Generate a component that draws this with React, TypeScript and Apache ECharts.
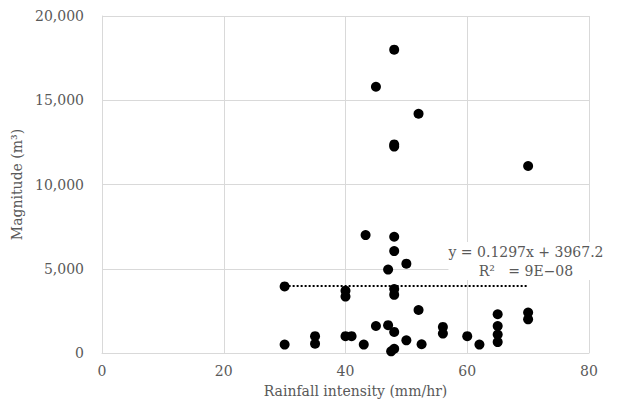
import React, { useEffect, useRef } from "react";
import * as echarts from "echarts";

const rainfall = [30, 30, 35, 35, 40, 40, 40, 41, 43, 43.3, 45, 45, 47, 47, 48, 48, 48, 48, 48, 47.5, 48, 48, 48, 48, 50, 50, 52, 52.5, 52, 56, 56, 60, 62, 65, 65, 65, 65, 70, 70, 70];
const magnitude = [3950, 500, 1000, 550, 3700, 3350, 1000, 1000, 500, 7000, 1600, 15800, 1650, 4950, 6900, 6050, 3800, 3450, 1250, 100, 250, 18000, 12380, 12250, 5300, 750, 2550, 520, 14200, 1550, 1150, 1000, 500, 2300, 1600, 1100, 650, 2400, 2000, 11100];
const trendX = [30, 70];
const slope = 0.1297;
const intercept = 3967.2;
const equationText = "y = 0.1297x + 3967.2";
const r2Text = "R²   = 9E−08";
const xTicks = { min: 0, max: 80, interval: 20 };
const yTicks = { min: 0, max: 20000, interval: 5000 };

export default function App() {
  const ref = useRef<HTMLDivElement>(null);
  useEffect(() => {
    document.body.style.margin = "0";
    if (!ref.current) return;
    const chart = echarts.init(ref.current, null, { renderer: "svg" });
    const font = "DejaVu Serif";
    const gray = "#595959";
    const points = rainfall.map((x, i) => [x, magnitude[i]]);
    const trend = trendX.map((x) => [x, slope * x + intercept]);
    chart.setOption({
      animation: false,
      backgroundColor: "#ffffff",
      grid: { left: 102, top: 16, right: 33, bottom: 54 },
      xAxis: {
        type: "value",
        min: xTicks.min,
        max: xTicks.max,
        interval: xTicks.interval,
        name: "Rainfall intensity (mm/hr)",
        nameLocation: "middle",
        nameGap: 31,
        nameTextStyle: { fontFamily: font, fontSize: 14, color: gray, padding: [0, 0, 0, 20] },
        axisLine: { show: true, lineStyle: { color: "#d9d9d9" } },
        axisTick: { show: false },
        axisLabel: { fontFamily: font, fontSize: 14, color: gray, margin: 11 },
        splitLine: { show: true, lineStyle: { color: "#d9d9d9" } },
      },
      yAxis: {
        type: "value",
        min: yTicks.min,
        max: yTicks.max,
        interval: yTicks.interval,
        name: "Magnitude (m³)",
        nameLocation: "middle",
        nameGap: 73,
        nameTextStyle: { fontFamily: font, fontSize: 14, color: gray },
        axisLine: { show: true, lineStyle: { color: "#d9d9d9" } },
        axisTick: { show: false },
        axisLabel: {
          fontFamily: font,
          fontSize: 14,
          color: gray,
          margin: 18,
          formatter: (v: number) => v.toLocaleString("en-US"),
        },
        splitLine: { show: true, lineStyle: { color: "#d9d9d9" } },
      },
      series: [
        {
          type: "line",
          data: trend,
          symbol: "none",
          lineStyle: { color: "#000000", width: 2, type: "dotted" },
          z: 1,
        },
        {
          type: "scatter",
          data: points,
          symbol: "circle",
          symbolSize: 10,
          itemStyle: { color: "#000000", opacity: 1 },
          z: 3,
        },
      ],
      graphic: [
        {
          type: "text",
          x: 526,
          y: 242,
          z: 10,
          style: {
            text: equationText + "\n" + r2Text,
            fontFamily: font,
            fontSize: 14,
            fill: gray,
            align: "center",
            verticalAlign: "top",
            lineHeight: 19,
            backgroundColor: "#ffffff",
          },
        },
      ],
    });
    return () => chart.dispose();
  }, []);
  return <div ref={ref} style={{ width: 622, height: 407 }} />;
}
